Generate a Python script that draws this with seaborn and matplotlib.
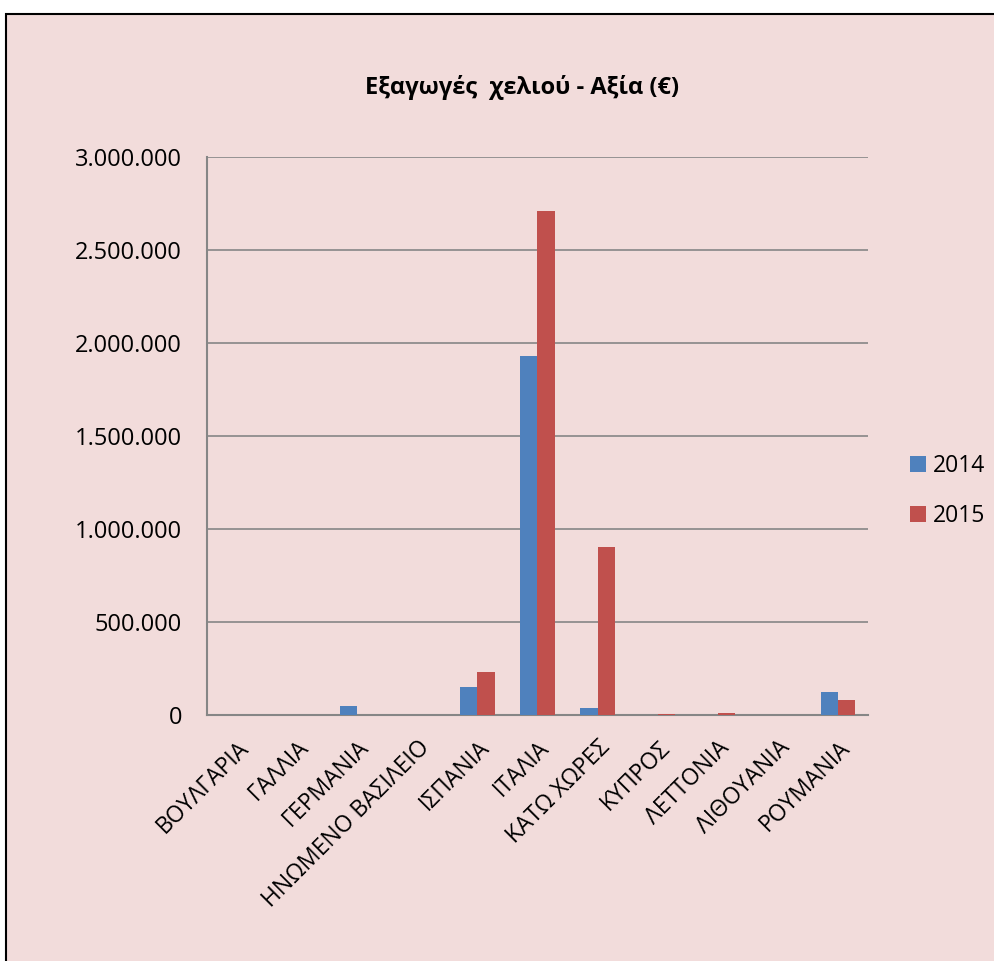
import matplotlib
matplotlib.use("Agg")
import matplotlib.pyplot as plt
from matplotlib.patches import Rectangle
from matplotlib.ticker import FixedLocator, FuncFormatter
import seaborn as sns
import pandas as pd

# Export value of eel by destination country (EUR)
countries = ["ΒΟΥΛΓΑΡΙΑ", "ΓΑΛΛΙΑ", "ΓΕΡΜΑΝΙΑ", "ΗΝΩΜΕΝΟ ΒΑΣΙΛΕΙΟ", "ΙΣΠΑΝΙΑ",
             "ΙΤΑΛΙΑ", "ΚΑΤΩ ΧΩΡΕΣ", "ΚΥΠΡΟΣ", "ΛΕΤΤΟΝΙΑ", "ΛΙΘΟΥΑΝΙΑ", "ΡΟΥΜΑΝΙΑ"]
values_2014 = [1500, 0, 51000, 0, 151000, 1930000, 37000, 0, 0, 0, 121000]
values_2015 = [0, 0, 0, 0, 229000, 2710000, 903000, 3000, 9000, 1500, 83000]
years = ["2014", "2015"]
y_ticks = [0, 500000, 1000000, 1500000, 2000000, 2500000, 3000000]

df = pd.DataFrame({
    "country": countries * 2,
    "year": [years[0]] * len(countries) + [years[1]] * len(countries),
    "value": values_2014 + values_2015,
})

sns.set_theme(style="white")
plt.rcParams["font.family"] = ["Open Sans", "DejaVu Sans"]
plt.rcParams["text.color"] = "black"
plt.rcParams["xtick.color"] = "black"
plt.rcParams["ytick.color"] = "black"

BG = "#F2DCDB"
GRID = "#868686"
palette = {"2014": "#4F81BD", "2015": "#C0504D"}

fig = plt.figure(figsize=(9.95, 9.61), dpi=100)
fig.patch.set_facecolor("white")
# chart frame
fig.patches.append(Rectangle((6 / 995, -0.01), 1.0, (961 - 14) / 961 + 0.01,
                             transform=fig.transFigure, facecolor=BG,
                             edgecolor="black", linewidth=1.5, zorder=-5))

ax = fig.add_axes([207 / 995, 1 - 715 / 961, (868 - 207) / 995, (715 - 157) / 961])
ax.set_facecolor("none")

sns.barplot(data=df, x="country", y="value", hue="year", order=countries,
            hue_order=years, palette=palette, width=0.572, gap=0,
            saturation=1, edgecolor="none", linewidth=0, ax=ax, zorder=3)

ax.set_xlim(-0.5, len(countries) - 0.5)
ax.set_ylim(0, 3000000)
ax.yaxis.set_major_locator(FixedLocator(y_ticks))
ax.yaxis.set_major_formatter(FuncFormatter(lambda v, p: f"{int(v):,}".replace(",", ".")))
ax.grid(axis="y", color=GRID, linewidth=1.2, zorder=0)
ax.grid(axis="x", visible=False)
ax.set_axisbelow(True)

for side in ["top", "right"]:
    ax.spines[side].set_visible(False)
for side in ["left", "bottom"]:
    ax.spines[side].set_color(GRID)
    ax.spines[side].set_linewidth(1.5)

ax.set_xticks(range(len(countries)))
ax.set_xticklabels(countries, rotation=45, ha="right", rotation_mode="anchor",
                   fontsize=16.5)
ax.set_xticks([i - 0.5 for i in range(len(countries) + 1)], minor=True)
ax.tick_params(axis="x", which="major", length=0, pad=15, labelcolor="black")
ax.tick_params(axis="x", which="minor", length=7, width=1.5, color=GRID, direction="out")
ax.tick_params(axis="y", which="major", length=5, width=1.5, color=GRID,
               direction="out", labelsize=17, pad=13, labelcolor="black")
ax.set_xlabel("")
ax.set_ylabel("")

ax.get_legend().remove()
handles = [Rectangle((0, 0), 1, 1, facecolor=palette[y], edgecolor="none") for y in years]
fig.legend(handles, years, loc="center left", bbox_to_anchor=(889 / 995, 1 - 491 / 961),
           frameon=False, fontsize=16.5, handlelength=0.7, handleheight=0.7,
           handletextpad=0.3, labelspacing=1.15)

fig.text(522 / 995, 1 - 88 / 961, "Εξαγωγές  χελιού - Αξία (€)", ha="center", va="center",
         fontsize=17, fontweight="bold")

fig.savefig("out.png", dpi=100, facecolor=fig.get_facecolor())
